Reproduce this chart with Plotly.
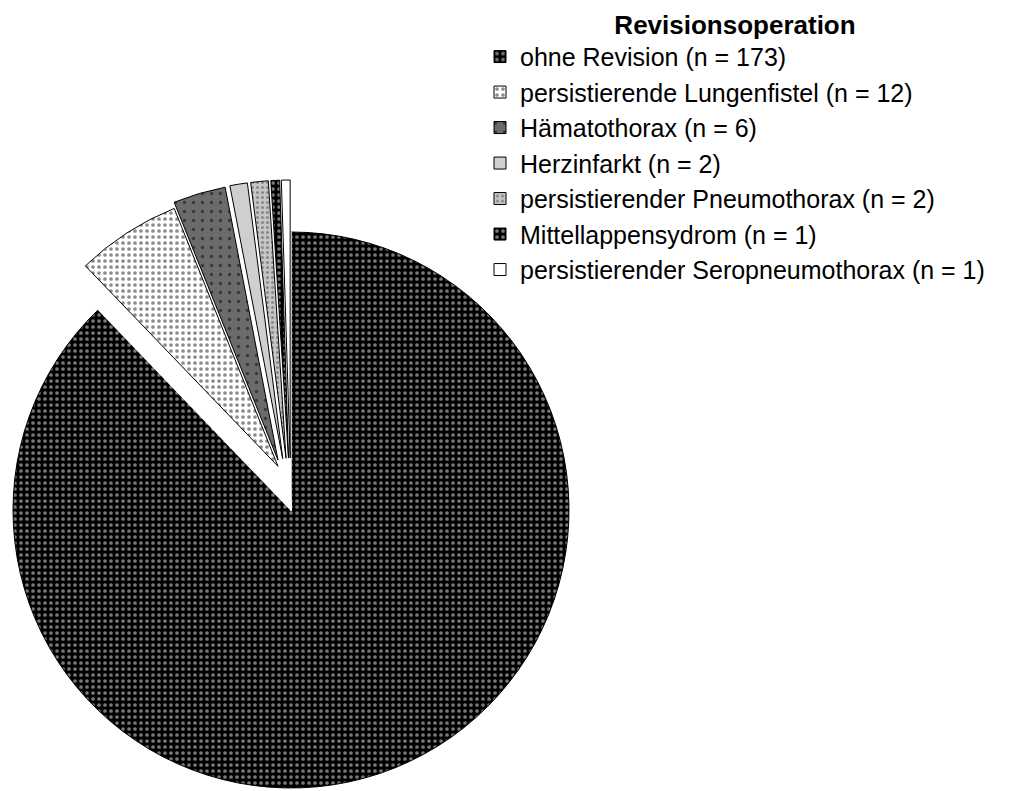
import math
import plotly.graph_objects as go

# ---- data ----
labels = [
    "ohne Revision (n = 173)",
    "persistierende Lungenfistel (n = 12)",
    "Hämatothorax (n = 6)",
    "Herzinfarkt (n = 2)",
    "persistierender Pneumothorax (n = 2)",
    "Mittellappensydrom (n = 1)",
    "persistierender Seropneumothorax (n = 1)",
]
values = [173, 12, 6, 2, 2, 1, 1]
legend_title = "Revisionsoperation"

# ---- styles ----
fill_colors = ["#000000", "#ffffff", "#6b6b6b", "#cfcfcf", "#c6c6c6", "#000000", "#ffffff"]
pattern_shapes = [".", ".", ".", "", ".", ".", ""]
pattern_fg = ["#7a7a7a", "#8c8c8c", "#3a3a3a", "#cfcfcf", "#8a8a8a", "#7a7a7a", "#ffffff"]
pattern_size = [6, 6, 9, 6, 5, 6, 6]
pattern_solidity = [0.3, 0.3, 0.12, 0.3, 0.3, 0.3, 0.3]
exploded = [False, True, True, True, True, True, True]

W, H = 1010, 791
CX, CY, R = 291, 510, 278      # pie centre / radius in px
PULL_PX = 52                   # explode distance in px
FONT = "Liberation Sans, Arial, Helvetica, sans-serif"
CLEAR = "rgba(0,0,0,0)"


def domain_for(cx, cy, r):
    x0 = max(0.0, cx - r)
    x0 = min(x0, W - 2 * r)
    y0 = max(0.0, cy - r)
    y0 = min(y0, H - 2 * r)
    return dict(x=[x0 / W, (x0 + 2 * r) / W], y=[1 - (y0 + 2 * r) / H, 1 - y0 / H])


common = dict(
    labels=labels,
    values=values,
    sort=False,
    direction="clockwise",
    rotation=0,
    textinfo="none",
)

fig = go.Figure()

# full pie (also the source of the legend entries)
fig.add_trace(go.Pie(
    **common,
    domain=domain_for(CX, CY, R),
    marker=dict(
        colors=fill_colors,
        line=dict(color="#000000", width=1),
        pattern=dict(shape=pattern_shapes, fgcolor=pattern_fg, bgcolor=fill_colors,
                     size=pattern_size, solidity=pattern_solidity, fillmode="replace"),
    ),
    showlegend=True,
    hoverinfo="label+value+percent",
))

# blank out the original place of the exploded slices
fig.add_trace(go.Pie(
    **common,
    domain=domain_for(CX, CY, R),
    marker=dict(
        colors=["#ffffff" if e else CLEAR for e in exploded],
        line=dict(color=["#ffffff" if e else CLEAR for e in exploded], width=1.5),
    ),
    showlegend=False,
    hoverinfo="skip",
))

# exploded slices, each moved outward along its own bisector
total = sum(values)
cum = 0
for k, v in enumerate(values):
    mid = 2 * math.pi * (cum + v / 2) / total
    cum += v
    if not exploded[k]:
        continue
    cx = CX + PULL_PX * math.sin(mid)
    cy = CY - PULL_PX * math.cos(mid)
    fig.add_trace(go.Pie(
        **common,
        domain=domain_for(cx, cy, R),
        marker=dict(
            colors=[fill_colors[i] if i == k else CLEAR for i in range(len(values))],
            line=dict(color=["#000000" if i == k else CLEAR for i in range(len(values))],
                      width=[1 if i == k else 0 for i in range(len(values))]),
            pattern=dict(
                shape=[pattern_shapes[i] if i == k else "" for i in range(len(values))],
                fgcolor=[pattern_fg[i] if i == k else CLEAR for i in range(len(values))],
                bgcolor=[fill_colors[i] if i == k else CLEAR for i in range(len(values))],
                size=pattern_size, solidity=pattern_solidity, fillmode="replace"),
        ),
        showlegend=False,
        hoverinfo="label+value+percent",
    ))

fig.update_layout(
    width=W,
    height=H,
    autosize=False,
    margin=dict(l=0, r=0, t=0, b=0),
    paper_bgcolor="#ffffff",
    plot_bgcolor="#ffffff",
    font=dict(family=FONT, color="#000000"),
    legend=dict(
        x=480 / W, y=1, xanchor="left", yanchor="top",
        font=dict(family=FONT, size=25, color="#000000"),
        title=dict(text="<b>" + legend_title + "</b>", side="top center",
                   font=dict(family=FONT, size=26, color="#000000")),
        bgcolor=CLEAR, borderwidth=0, traceorder="normal",
    ),
)

fig.write_html(
    "out.html",
    config={"displayModeBar": False},
    post_script="document.body.style.margin = '0px';",
)
